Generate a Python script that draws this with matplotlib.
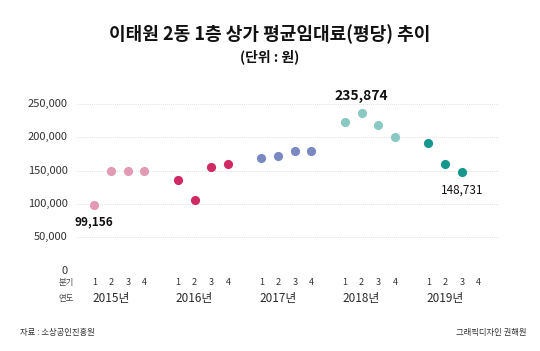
import matplotlib
matplotlib.use("Agg")
import matplotlib.pyplot as plt

plt.rcParams['font.family'] = ['Noto Sans CJK KR', 'DejaVu Sans']

# --- data ---
years = [2015, 2016, 2017, 2018, 2019]
quarters = [1, 2, 3, 4]
rent_2015 = [99156, 149500, 149500, 149500]
rent_2016 = [136500, 106500, 155000, 159500]
rent_2017 = [169500, 172500, 180000, 180000]
rent_2018 = [223500, 235874, 218500, 201000]
rent_2019 = [191500, 160500, 148731]
year_colors = ["#e39ab5", "#cf2a64", "#7b89c3", "#8ac8c3", "#16968d"]
yticks = [0, 50000, 100000, 150000, 200000, 250000]

series = [rent_2015, rent_2016, rent_2017, rent_2018, rent_2019]

fig = plt.figure(figsize=(5.4, 3.51), dpi=100)
ax = fig.add_axes([77 / 540, 1 - 270.7 / 351, 422 / 540, 166.7 / 351])

# x position: 5 slots per year (4 quarters + 1 gap)
for i, vals in enumerate(series):
    xs = [i * 5 + q - 1 for q in quarters[:len(vals)]]
    ax.plot(xs, vals, "o", color=year_colors[i], markersize=6.6,
            markeredgewidth=0, clip_on=False, zorder=3)

ax.set_xlim(-1.04, 24.23)
ax.set_ylim(0, 250000)

for y in yticks:
    ax.axhline(y, color="#d8d8d8", linewidth=0.6, linestyle=(0, (1, 1.5)), zorder=1)
    ax.text(-1.6, y, f"{y:,}", ha="right", va="center", fontsize=8, color="#333333")

for s in ax.spines.values():
    s.set_visible(False)
ax.set_xticks([])
ax.set_yticks([])

# quarter / year rows under the plot
trans = ax.get_xaxis_transform()
ax.text(-1.7, -0.072, "분기", ha="center", va="center", fontsize=6,
        color="#444444", transform=trans)
ax.text(-1.7, -0.165, "연도", ha="center", va="center", fontsize=6,
        color="#444444", transform=trans)
for i, yr in enumerate(years):
    for q in quarters:
        ax.text(i * 5 + q - 1, -0.072, str(q), ha="center", va="center",
                fontsize=6.5, color="#333333", transform=trans)
    ax.text(i * 5 + 1.0, -0.165, f"{yr}년", ha="center", va="center",
            fontsize=8.5, color="#2a2a2a", transform=trans)

# value labels
ax.text(0, 99156 - 26000, "99,156", ha="center", va="center", fontsize=8.5,
        fontweight="bold", color="#111111")
ax.text(16, 235874 + 26000, "235,874", ha="center", va="center", fontsize=10,
        fontweight="bold", color="#111111", clip_on=False)
ax.text(22, 148731 - 28000, "148,731", ha="center", va="center", fontsize=8.5,
        fontweight="medium", color="#111111")

fig.text(0.5, 1 - 34 / 351, "이태원 2동 1층 상가 평균임대료(평당) 추이", ha="center",
         va="center", fontsize=13, fontweight="bold", color="#111111")
fig.text(0.5, 1 - 57 / 351, "(단위 : 원)", ha="center", va="center", fontsize=10,
         fontweight="bold", color="#111111")

fig.text(20 / 540, 1 - 333 / 351, "자료 : 소상공인진흥원", ha="left", va="center",
         fontsize=6, color="#333333")
fig.text(527 / 540, 1 - 333 / 351, "그래픽디자인 권해원", ha="right", va="center",
         fontsize=6, color="#333333")

fig.savefig("out.png", dpi=100, facecolor="white")
